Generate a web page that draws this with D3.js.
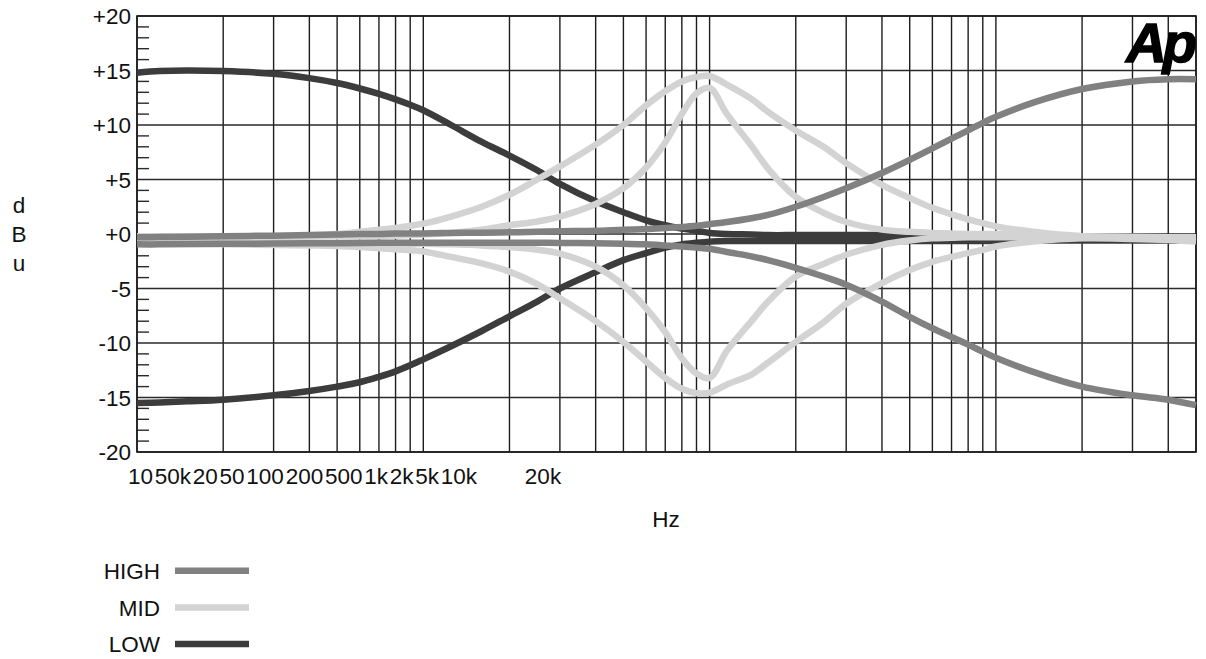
<!DOCTYPE html>
<html><head><meta charset="utf-8">
<script src="https://cdn.jsdelivr.net/npm/d3@7"></script>
<style>
body{margin:0;background:#fff;}
text{font-family:"Liberation Sans",Arial,Helvetica,sans-serif;fill:#111;}
</style>
</head><body>
<svg id="c" width="1206" height="659"></svg>
<script>
// ---------- DATA ----------
const freqs = [10,12,15,20,30,40,50,60,70,80,90,100,125,160,200,250,300,400,500,600,700,800,900,1000,
  1150,1400,1600,2000,2500,3000,4000,5000,6000,7000,8000,9000,10000,13500,20000,30000,40000,50000];

const lowBoost = [14.8,14.95,15.0,14.95,14.7,14.3,13.85,13.35,12.85,12.35,11.85,11.35,10.0,8.45,7.2,5.85,4.6,3.0,2.0,1.25,0.8,0.5,0.3,0.1,
  0.0,-0.05,-0.1,-0.1,-0.1,-0.1,-0.1,-0.1,-0.1,-0.1,-0.15,-0.15,-0.2,-0.2,-0.25,-0.25,-0.3,-0.3];
const lowCut = [-15.5,-15.45,-15.35,-15.2,-14.8,-14.4,-14.0,-13.6,-13.1,-12.6,-12.05,-11.5,-10.3,-8.9,-7.55,-6.2,-5.0,-3.5,-2.4,-1.75,-1.25,-0.95,-0.8,-0.7,
  -0.65,-0.65,-0.65,-0.65,-0.65,-0.65,-0.65,-0.65,-0.65,-0.65,-0.65,-0.65,-0.65,-0.6,-0.6,-0.6,-0.6,-0.6];

const midWideBoost = [-0.4,-0.4,-0.4,-0.35,-0.3,-0.15,0.0,0.2,0.4,0.55,0.75,0.95,1.6,2.5,3.6,5.0,6.2,8.2,10.0,11.8,13.1,14.0,14.4,14.5,
  13.7,12.4,11.2,9.5,8.0,6.5,4.5,3.3,2.4,1.8,1.35,1.0,0.7,0.2,-0.2,-0.3,-0.35,-0.4];
const midNarrowBoost = [-0.2,-0.2,-0.2,-0.2,-0.2,-0.2,-0.2,-0.2,-0.2,-0.15,-0.1,-0.05,0.1,0.4,0.8,1.15,1.6,2.75,4.2,6.1,8.4,11.0,12.9,13.4,
  11.0,8.1,6.0,3.4,1.95,1.1,0.4,0.2,0.1,0.05,0.0,0.0,0.0,-0.1,-0.2,-0.25,-0.3,-0.3];
const midWideCut = [-0.9,-0.9,-0.92,-0.95,-1.0,-1.05,-1.1,-1.2,-1.3,-1.4,-1.5,-1.6,-2.1,-2.7,-3.45,-4.6,-5.9,-8.0,-9.9,-11.7,-13.2,-14.2,-14.6,-14.55,
  -13.8,-12.9,-11.8,-9.9,-8.1,-6.4,-4.5,-3.3,-2.55,-2.1,-1.75,-1.45,-1.15,-0.7,-0.4,-0.45,-0.55,-0.7];
const midNarrowCut = [-0.7,-0.7,-0.7,-0.7,-0.75,-0.75,-0.8,-0.8,-0.85,-0.85,-0.9,-0.9,-0.95,-1.05,-1.2,-1.45,-1.8,-3.0,-4.7,-6.8,-9.0,-11.4,-12.8,-13.2,
  -10.7,-8.0,-6.2,-3.9,-2.75,-1.9,-1.0,-0.6,-0.4,-0.35,-0.3,-0.3,-0.3,-0.3,-0.3,-0.35,-0.4,-0.4];

const highBoost = [-0.3,-0.28,-0.25,-0.2,-0.15,-0.1,-0.05,0.0,0.0,0.05,0.05,0.05,0.1,0.12,0.15,0.2,0.25,0.3,0.4,0.45,0.55,0.65,0.75,0.9,
  1.1,1.45,1.75,2.5,3.4,4.2,5.6,6.8,7.85,8.75,9.5,10.2,10.75,12.05,13.3,14.0,14.2,14.2];
const highCut = [-0.95,-0.95,-0.92,-0.9,-0.88,-0.85,-0.85,-0.82,-0.8,-0.8,-0.8,-0.8,-0.8,-0.8,-0.8,-0.8,-0.82,-0.85,-0.9,-0.95,-1.05,-1.15,-1.25,-1.35,
  -1.65,-2.05,-2.4,-3.1,-3.9,-4.65,-6.2,-7.6,-8.65,-9.45,-10.15,-10.8,-11.35,-12.65,-14.0,-14.8,-15.2,-15.7];

const seriesNames = ["HIGH","MID","LOW"];
const seriesColors = {HIGH:"#818181", MID:"#d3d3d3", LOW:"#3c3c3c"};
const seriesCurves = {LOW:[lowBoost,lowCut], MID:[midWideBoost,midNarrowBoost,midWideCut,midNarrowCut], HIGH:[highBoost,highCut]};
const drawOrder = ["LOW","MID","HIGH"];

const yTickValues = [20,15,10,5,0,-5,-10,-15,-20];
const yTickLabels = ["+20","+15","+10","+5","+0","-5","-10","-15","-20"];
const xTickLabels = ["10","50k","20","50","100","200","500","1k","2k","5k","10k"];
const xExtraLabel = "20k";
const xTitle = "Hz";
const yTitle = ["d","B","u"];

// ---------- LAYOUT ----------
const L = 137, R = 1196, T = 16, B = 452;
const svg = d3.select("#c");
const x = d3.scaleLog().domain([10, 50000]).range([L, R]);
const y = d3.scaleLinear().domain([-20, 20]).range([B, T]);
const FS = 22.5;

// grid
const g = svg.append("g");
g.selectAll("line.v").data(x.ticks()).enter().append("line")
  .attr("x1", d => x(d)).attr("x2", d => x(d)).attr("y1", T).attr("y2", B)
  .attr("stroke", "#1c1c1c").attr("stroke-width", 1.4);
g.selectAll("line.h").data(yTickValues).enter().append("line")
  .attr("x1", L).attr("x2", R).attr("y1", d => y(d)).attr("y2", d => y(d))
  .attr("stroke", "#2a2a2a").attr("stroke-width", 1.6);
// minor ticks
g.selectAll("line.m").data(d3.range(-19, 20).filter(v => v % 5 !== 0)).enter().append("line")
  .attr("x1", L).attr("x2", L + 12).attr("y1", d => y(d)).attr("y2", d => y(d))
  .attr("stroke", "#2a2a2a").attr("stroke-width", 1.4);
// border
g.append("rect").attr("x", L).attr("y", T).attr("width", R - L).attr("height", B - T)
  .attr("fill", "none").attr("stroke", "#1c1c1c").attr("stroke-width", 1.6);

// curves
const line = d3.line().x(d => x(d[0])).y(d => y(d[1])).curve(d3.curveCatmullRom.alpha(0.5));
drawOrder.forEach(name => {
  seriesCurves[name].forEach(vals => {
    svg.append("path").datum(freqs.map((f, i) => [f, vals[i]]))
      .attr("d", line).attr("fill", "none")
      .attr("stroke", seriesColors[name]).attr("stroke-width", 6.5)
      .attr("stroke-linejoin", "round").attr("stroke-linecap", "butt");
  });
});

// y tick labels
svg.selectAll("text.yt").data(yTickValues).enter().append("text")
  .attr("x", 131).attr("y", d => y(d)).attr("dy", "0.36em")
  .attr("text-anchor", "end").attr("font-size", FS)
  .text((d, i) => yTickLabels[i]);

// x tick labels (crowded, flowing as in the original)
const xt = svg.append("text").attr("x", 128).attr("y", 484).attr("font-size", FS);
const spans = xTickLabels.map(t => xt.append("tspan").text(t));
const total = xt.node().getComputedTextLength();
const gap = (349 - total) / (xTickLabels.length - 1);
spans.forEach((s, i) => { if (i > 0) s.attr("dx", gap); });
svg.append("text").attr("x", 543).attr("y", 484).attr("text-anchor", "middle")
  .attr("font-size", FS).text(xExtraLabel);

// titles
svg.append("text").attr("x", 666).attr("y", 527).attr("text-anchor", "middle")
  .attr("font-size", FS).text(xTitle);
yTitle.forEach((ch, i) => {
  svg.append("text").attr("x", 19).attr("y", 213 + i * 29).attr("text-anchor", "middle")
    .attr("font-size", FS).text(ch);
});

// Ap logo
svg.append("text").attr("x", 1193).attr("y", 62).attr("text-anchor", "end")
  .attr("font-size", 56).attr("font-weight", "bold").attr("font-style", "italic")
  .attr("letter-spacing", -4).attr("stroke", "#000").attr("stroke-width", 1.5)
  .style("fill", "#000").text("Ap");

// legend
seriesNames.forEach((name, i) => {
  const cy = 570.7 + i * 36.7;
  svg.append("text").attr("x", 160).attr("y", cy).attr("dy", "0.36em")
    .attr("text-anchor", "end").attr("font-size", FS).text(name);
  svg.append("line").attr("x1", 175).attr("x2", 249).attr("y1", cy).attr("y2", cy)
    .attr("stroke", seriesColors[name]).attr("stroke-width", 6.5);
});
</script>
</body></html>
